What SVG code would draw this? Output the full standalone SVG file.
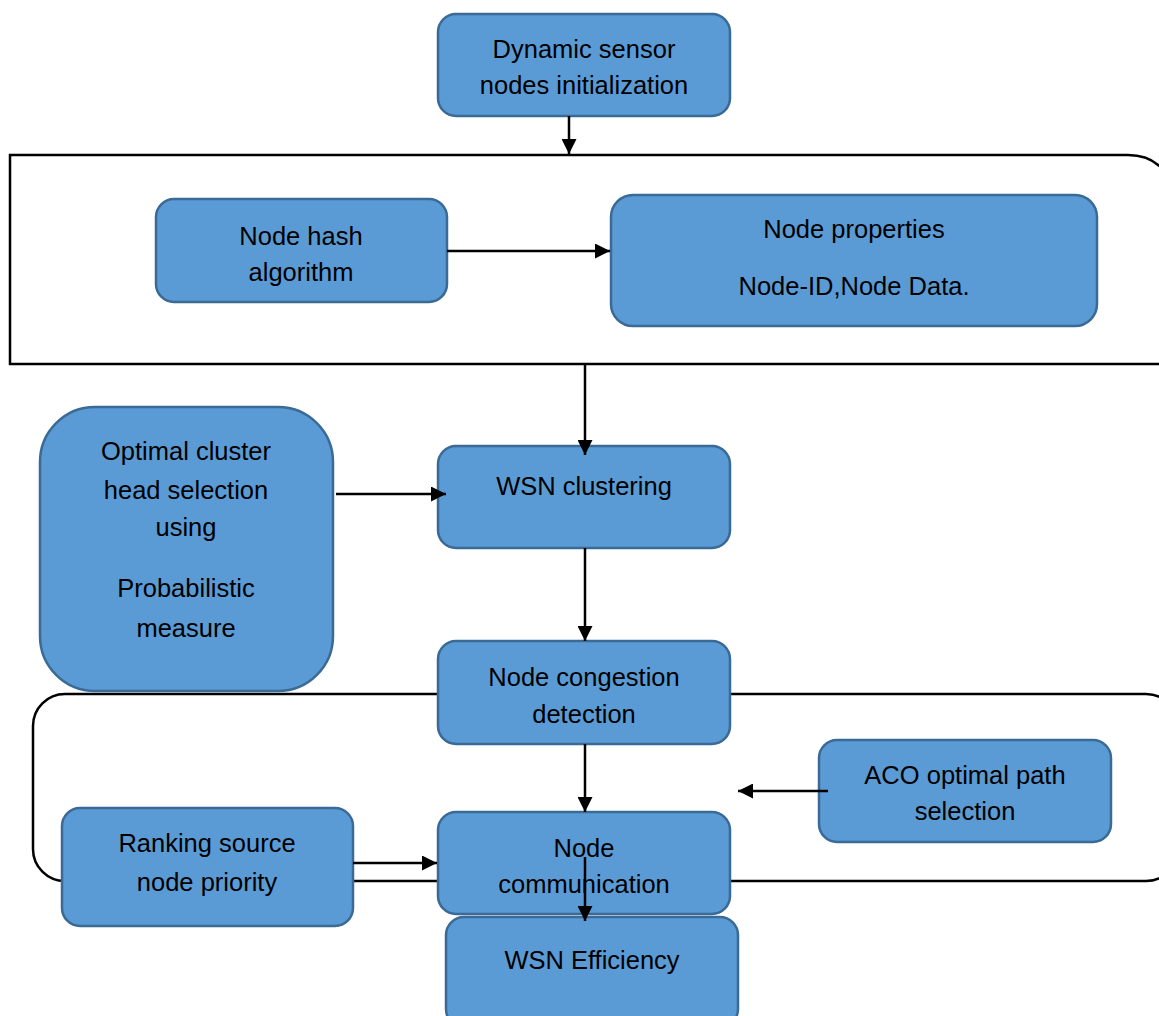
<svg xmlns="http://www.w3.org/2000/svg" width="1159" height="1016" viewBox="0 0 1159 1016">
<style>
.box{fill:#5B9BD5;stroke:#3A6A96;stroke-width:2.5}
.frame{fill:none;stroke:#000;stroke-width:2.5}
.t{font-family:"Liberation Sans",Arial,sans-serif;font-size:25.5px;fill:#000;text-anchor:middle}
.c{stroke:#000;stroke-width:2.5;fill:none}
</style>
<defs>
<marker id="ah" markerUnits="userSpaceOnUse" markerWidth="15" markerHeight="15" viewBox="0 0 15 15" refX="15" refY="7.5" orient="auto">
<path d="M0,0 L15,7.5 L0,15 Z" fill="#000"/>
</marker>
</defs>
<rect width="1159" height="1016" fill="#fff"/>
<g id="frames">
<path class="frame" d="M1175,364 H10 V155 H1128 Q1152,155 1165,172"/>
<rect class="frame" x="33" y="694" width="1145" height="187" rx="32"/>
</g>
<g id="n1"><rect class="box" x="438" y="14" width="292" height="102" rx="18"/>
<text class="t" x="584" y="58">Dynamic sensor</text><text class="t" x="584" y="94">nodes initialization</text></g>
<g id="n2"><rect class="box" x="156" y="199" width="291" height="103" rx="18"/>
<text class="t" x="301" y="245">Node hash</text><text class="t" x="301" y="281">algorithm</text></g>
<g id="n3"><rect class="box" x="611" y="195" width="486" height="131" rx="22"/>
<text class="t" x="854" y="238">Node properties</text><text class="t" x="854" y="295">Node-ID,Node Data.</text></g>
<g id="n4"><rect class="box" x="40" y="407" width="293" height="284" rx="55"/>
<text class="t" x="186" y="460">Optimal cluster</text><text class="t" x="186" y="499">head selection</text><text class="t" x="186" y="536">using</text><text class="t" x="186" y="597">Probabilistic</text><text class="t" x="186" y="637">measure</text></g>
<g id="n5"><rect class="box" x="438" y="446" width="292" height="102" rx="18"/>
<text class="t" x="584" y="495">WSN clustering</text></g>
<g id="n6"><rect class="box" x="438" y="641" width="292" height="103" rx="18"/>
<text class="t" x="584" y="686">Node congestion</text><text class="t" x="584" y="723">detection</text></g>
<g id="n7"><rect class="box" x="819" y="740" width="292" height="102" rx="18"/>
<text class="t" x="965" y="784">ACO optimal path</text><text class="t" x="965" y="820">selection</text></g>
<g id="n8"><rect class="box" x="62" y="808" width="291" height="118" rx="18"/>
<text class="t" x="207" y="852">Ranking source</text><text class="t" x="207" y="891">node priority</text></g>
<g id="n9"><rect class="box" x="438" y="812" width="292" height="102" rx="18"/>
<text class="t" x="584" y="857">Node</text><text class="t" x="584" y="893">communication</text></g>
<g id="n10"><rect class="box" x="446" y="917" width="292" height="110" rx="18"/>
<text class="t" x="592" y="969">WSN Efficiency</text></g>
<g id="connectors">
<line class="c" x1="569" y1="116" x2="569" y2="154" marker-end="url(#ah)"/>
<line class="c" x1="447" y1="251" x2="610" y2="251" marker-end="url(#ah)"/>
<line class="c" x1="585" y1="364" x2="585" y2="455" marker-end="url(#ah)"/>
<line class="c" x1="336" y1="494" x2="446" y2="494" marker-end="url(#ah)"/>
<line class="c" x1="585" y1="548" x2="585" y2="641" marker-end="url(#ah)"/>
<line class="c" x1="585" y1="744" x2="585" y2="812" marker-end="url(#ah)"/>
<line class="c" x1="828" y1="791" x2="738" y2="791" marker-end="url(#ah)"/>
<line class="c" x1="353" y1="863" x2="437" y2="863" marker-end="url(#ah)"/>
<line class="c" x1="585" y1="857" x2="585" y2="921" marker-end="url(#ah)"/>
</g>
</svg>
